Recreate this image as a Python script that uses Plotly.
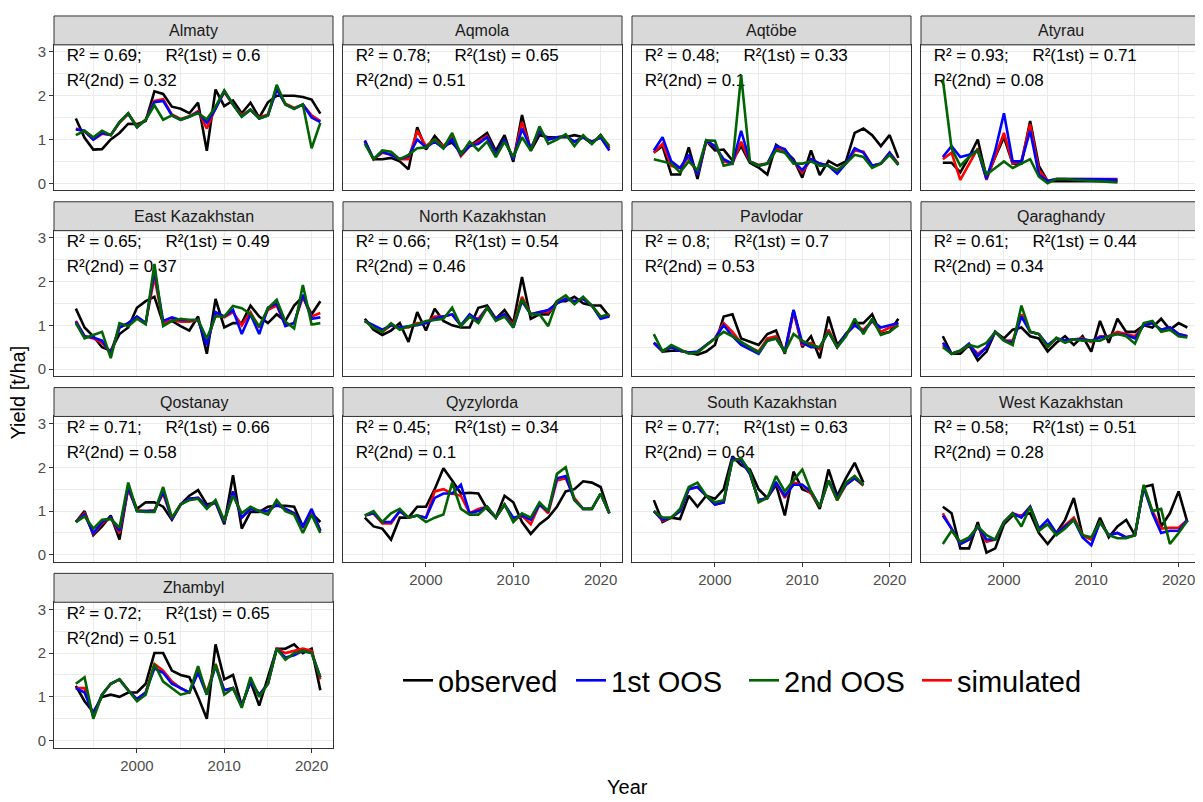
import plotly.graph_objects as go

# ---------------- data ----------------
years = list(range(1993, 2022))
regions = ["Almaty", "Aqmola", "Aqtöbe", "Atyrau", "East Kazakhstan", "North Kazakhstan",
           "Pavlodar", "Qaraghandy", "Qostanay", "Qyzylorda", "South Kazakhstan",
           "West Kazakhstan", "Zhambyl"]

r2_all = [0.69, 0.78, 0.48, 0.93, 0.65, 0.66, 0.8, 0.61, 0.71, 0.45, 0.77, 0.58, 0.72]
r2_1st = [0.6, 0.65, 0.33, 0.71, 0.49, 0.54, 0.7, 0.44, 0.66, 0.34, 0.63, 0.51, 0.65]
r2_2nd = [0.32, 0.51, 0.1, 0.08, 0.37, 0.46, 0.53, 0.34, 0.58, 0.1, 0.64, 0.28, 0.51]

almaty_obs = [1.48,1.04,0.77,0.78,1.0,1.15,1.36,1.35,1.42,2.1,2.04,1.75,1.7,1.6,1.84,0.74,2.14,1.76,1.89,1.6,1.84,1.5,1.85,2.0,2.0,2.0,1.97,1.91,1.59]
almaty_sim = [1.25,1.18,1.0,1.13,1.1,1.38,1.58,1.3,1.45,1.88,1.92,1.57,1.47,1.53,1.65,1.25,1.72,2.08,1.8,1.55,1.68,1.5,1.57,2.15,1.82,1.72,1.8,1.55,1.42]
almaty_1st = [1.23,1.2,1.0,1.15,1.1,1.4,1.6,1.28,1.45,1.85,1.88,1.55,1.45,1.52,1.62,1.38,1.7,2.1,1.8,1.52,1.68,1.48,1.55,2.15,1.8,1.7,1.8,1.5,1.4]
almaty_2nd = [1.1,1.2,1.05,1.2,1.1,1.4,1.6,1.28,1.45,1.78,1.45,1.55,1.45,1.52,1.6,1.46,1.75,2.12,1.8,1.52,1.68,1.48,1.55,2.25,1.8,1.7,1.8,0.8,1.38]

aqmola_obs = [0.96,0.55,0.55,0.58,0.5,0.32,1.28,0.77,1.08,0.85,0.93,0.7,0.85,1.0,1.15,0.74,1.1,0.49,1.56,0.74,1.1,1.05,1.05,1.05,1.1,1.05,0.9,1.1,0.8]
aqmola_sim = [0.95,0.55,0.7,0.65,0.55,0.55,1.2,0.85,1.0,0.85,1.05,0.62,0.85,0.95,1.08,0.65,1.0,0.55,1.4,0.78,1.2,1.0,1.05,1.08,0.95,1.05,0.95,1.05,0.8]
aqmola_1st = [0.98,0.55,0.72,0.65,0.55,0.62,1.0,0.82,0.95,0.8,1.0,0.65,0.85,0.9,1.05,0.65,1.0,0.55,1.25,0.8,1.2,1.0,1.05,1.08,0.95,1.05,0.95,1.05,0.75]
aqmola_2nd = [0.9,0.55,0.75,0.72,0.55,0.65,0.8,0.82,1.0,0.8,1.15,0.65,0.95,0.75,0.95,0.6,0.95,0.6,1.05,0.75,1.3,0.9,1.0,1.12,0.85,1.1,0.9,1.1,0.85]

aqtobe_obs = [0.7,0.85,0.2,0.2,0.82,0.1,0.97,0.75,0.77,0.52,0.85,0.47,0.36,0.2,0.88,0.74,0.55,0.13,0.75,0.19,0.51,0.4,0.5,1.15,1.25,1.1,0.85,1.1,0.58]
aqtobe_sim = [0.7,0.9,0.4,0.35,0.6,0.2,0.95,0.85,0.5,0.45,0.95,0.5,0.42,0.45,0.8,0.75,0.5,0.25,0.55,0.45,0.4,0.3,0.45,0.75,0.72,0.4,0.45,0.7,0.45]
aqtobe_1st = [0.75,1.05,0.5,0.35,0.65,0.2,0.98,0.85,0.55,0.45,1.2,0.5,0.4,0.45,0.85,0.78,0.5,0.3,0.55,0.45,0.4,0.22,0.45,0.8,0.7,0.4,0.45,0.7,0.42]
aqtobe_2nd = [0.55,0.5,0.45,0.25,0.5,0.3,0.98,0.97,0.4,0.45,2.47,0.5,0.4,0.45,0.75,0.7,0.45,0.45,0.5,0.4,0.4,0.3,0.45,0.65,0.6,0.35,0.45,0.65,0.42]

atyrau_obs = [0.47,0.47,0.25,0.6,1.0,0.13,0.6,1.05,0.45,0.45,1.42,0.4,0.05,0.05,0.05,0.05,0.05,0.05,0.05,0.05,0.05]
atyrau_sim = [0.55,0.7,0.08,0.45,0.8,0.08,0.6,1.15,0.45,0.5,1.35,0.3,0.05,0.1,0.1,0.1,0.1,0.1,0.1,0.1,0.1]
atyrau_1st = [0.6,0.85,0.6,0.65,0.75,0.1,0.75,1.6,0.5,0.5,1.2,0.2,0.05,0.1,0.1,0.1,0.1,0.1,0.09,0.09,0.08]
atyrau_2nd = [2.37,0.8,0.4,0.6,0.75,0.2,0.35,0.5,0.35,0.45,0.55,0.15,0.0,0.1,0.1,0.08,0.07,0.06,0.05,0.04,0.02]

eastkaz_obs = [1.38,0.95,0.75,0.5,0.42,0.8,0.95,1.4,1.55,1.65,1.05,1.1,0.98,0.88,1.2,0.35,1.6,0.95,1.05,1.05,1.45,1.2,1.05,1.25,1.1,1.45,1.65,1.25,1.55]
eastkaz_sim = [1.1,0.75,0.7,0.6,0.38,0.95,1.05,1.2,1.05,2.1,1.05,1.12,1.08,1.08,1.12,0.6,1.25,1.18,1.3,1.0,1.3,0.95,1.35,1.45,1.0,1.05,1.65,1.2,1.28]
eastkaz_1st = [1.08,0.75,0.72,0.65,0.35,0.95,1.05,1.2,1.05,2.25,1.1,1.18,1.12,1.12,1.12,0.55,1.3,1.2,1.35,0.8,1.25,0.8,1.4,1.5,0.98,1.05,1.7,1.15,1.18]
eastkaz_2nd = [1.05,0.7,0.78,0.85,0.25,1.05,0.98,1.15,1.02,2.4,0.98,1.1,1.15,1.12,1.12,0.7,1.2,1.2,1.44,1.39,1.26,0.97,1.39,1.58,1.08,0.93,1.92,1.02,1.05]

northkaz_obs = [1.15,0.9,0.78,0.88,1.05,0.62,1.3,0.88,1.38,1.1,1.0,0.95,0.95,1.4,1.45,1.15,1.35,1.05,2.1,1.15,1.25,1.25,1.55,1.55,1.65,1.5,1.45,1.45,1.2]
northkaz_sim = [1.1,0.95,0.85,1.0,0.95,0.95,1.05,1.05,1.2,1.2,1.25,1.0,1.2,1.15,1.4,1.15,1.25,1.0,1.65,1.25,1.3,1.3,1.5,1.6,1.55,1.6,1.45,1.2,1.22]
northkaz_1st = [1.1,1.0,0.9,1.0,0.95,0.98,1.0,1.05,1.15,1.2,1.25,1.0,1.25,1.1,1.4,1.15,1.25,0.95,1.55,1.25,1.3,1.35,1.5,1.6,1.55,1.6,1.45,1.15,1.2]
northkaz_2nd = [1.1,0.95,0.85,1.05,0.9,0.98,1.02,1.1,1.12,1.15,1.4,0.98,1.2,1.05,1.4,1.1,1.2,0.95,1.6,1.25,1.25,0.98,1.55,1.68,1.48,1.65,1.45,1.2,1.25]

pavlodar_obs = [0.6,0.4,0.42,0.42,0.38,0.33,0.4,0.55,1.2,1.25,0.7,0.62,0.55,0.8,0.88,0.35,1.35,0.5,0.75,0.25,1.2,0.55,0.8,1.05,1.05,1.25,0.8,0.85,1.15]
pavlodar_sim = [0.6,0.42,0.5,0.42,0.38,0.38,0.55,0.7,1.05,0.85,0.6,0.5,0.4,0.7,0.75,0.38,1.3,0.55,0.6,0.45,0.9,0.5,0.8,1.0,0.9,1.1,0.85,0.95,1.05]
pavlodar_1st = [0.6,0.42,0.5,0.42,0.38,0.4,0.55,0.7,1.0,0.75,0.55,0.45,0.35,0.65,0.7,0.4,1.35,0.6,0.5,0.5,0.85,0.5,0.8,1.0,0.85,1.1,0.95,1.0,1.05]
pavlodar_2nd = [0.8,0.4,0.55,0.45,0.35,0.38,0.55,0.7,0.85,0.75,0.62,0.5,0.38,0.65,0.7,0.4,0.8,0.65,0.55,0.5,0.85,0.5,0.75,1.15,0.8,1.15,0.78,0.85,1.0]

qaraghandy_obs = [0.75,0.35,0.35,0.55,0.2,0.4,0.85,0.7,0.9,0.95,0.75,0.7,0.4,0.6,0.75,0.55,0.75,0.4,1.1,0.6,1.15,0.85,0.85,1.0,0.95,1.15,0.9,1.05,0.95]
qaraghandy_sim = [0.55,0.35,0.42,0.55,0.35,0.5,0.85,0.65,0.65,1.25,0.85,0.8,0.5,0.7,0.65,0.68,0.7,0.62,0.75,0.75,0.85,0.8,0.75,1.0,1.05,0.9,0.95,0.8,0.75]
qaraghandy_1st = [0.6,0.35,0.42,0.58,0.3,0.5,0.85,0.65,0.6,1.2,0.85,0.8,0.55,0.7,0.65,0.68,0.68,0.65,0.72,0.75,0.8,0.78,0.7,1.0,1.05,0.9,0.95,0.8,0.75]
qaraghandy_2nd = [0.5,0.35,0.42,0.55,0.5,0.6,0.85,0.65,0.55,1.45,0.85,0.8,0.5,0.72,0.6,0.68,0.65,0.65,0.65,0.75,0.8,0.75,0.58,1.05,1.1,0.85,0.9,0.75,0.72]

qostanay_obs = [0.75,1.0,0.45,0.65,0.9,0.35,1.55,1.05,1.2,1.2,1.1,0.8,1.15,1.35,1.48,1.15,1.2,0.7,1.82,0.6,0.98,0.98,1.1,1.12,1.12,1.1,0.65,0.95,0.75]
qostanay_sim = [0.75,0.95,0.48,0.72,0.85,0.5,1.5,1.02,1.0,1.02,1.4,0.82,1.15,1.28,1.3,1.1,1.2,0.75,1.45,0.85,1.05,1.0,1.0,1.15,1.05,0.95,0.62,1.0,0.55]
qostanay_1st = [0.75,0.92,0.5,0.75,0.85,0.55,1.55,1.0,1.0,1.0,1.45,0.82,1.15,1.28,1.3,1.1,1.2,0.75,1.45,0.85,1.05,1.0,1.0,1.15,1.05,0.95,0.65,1.05,0.55]
qostanay_2nd = [0.75,0.88,0.6,0.8,0.82,0.62,1.65,1.0,0.98,0.98,1.55,0.85,1.15,1.25,1.28,1.05,1.25,0.78,1.35,0.95,1.1,1.0,0.92,1.25,1.0,0.92,0.5,0.92,0.5]

qyzylorda_obs = [0.85,0.65,0.6,0.35,0.85,0.85,1.1,1.1,1.5,1.98,1.7,1.4,1.42,1.4,1.05,0.85,1.35,1.2,0.75,0.48,0.7,0.85,1.1,1.45,1.5,1.68,1.65,1.55,0.95]
qyzylorda_sim = [0.9,0.95,0.72,0.72,1.0,0.85,0.9,0.85,1.45,1.5,1.4,1.35,0.95,1.05,1.1,0.85,1.15,0.8,0.9,0.7,1.15,0.95,1.7,1.75,1.3,1.05,1.05,1.4,0.95]
qyzylorda_1st = [0.9,0.95,0.75,0.75,1.0,0.85,0.9,0.85,1.3,1.4,1.4,1.6,0.95,1.0,1.1,0.85,1.15,0.85,0.9,0.8,1.15,1.0,1.75,1.8,1.25,1.05,1.05,1.4,0.95]
qyzylorda_2nd = [0.9,1.0,0.75,0.95,1.05,0.85,0.9,0.75,0.85,0.92,1.65,1.05,0.92,0.92,1.1,0.85,1.15,0.75,0.95,0.85,1.2,1.0,1.85,2.0,1.25,1.05,1.05,1.4,0.95]

southkaz_obs = [1.25,0.75,0.85,0.82,1.35,1.1,1.35,1.28,1.5,2.25,2.05,1.95,1.5,1.3,1.6,0.9,1.9,1.5,1.42,1.05,1.95,1.35,1.75,2.1,1.65]
southkaz_sim = [1.0,0.78,0.85,1.0,1.5,1.55,1.35,1.15,1.2,2.2,2.15,1.85,1.25,1.3,1.65,1.3,1.65,1.6,1.4,1.1,1.7,1.25,1.6,1.75,1.58]
southkaz_1st = [1.0,0.8,0.85,1.0,1.5,1.55,1.35,1.15,1.2,2.2,2.15,1.85,1.25,1.3,1.65,1.35,1.6,1.6,1.45,1.1,1.7,1.3,1.6,1.75,1.6]
southkaz_2nd = [1.0,0.85,0.85,1.05,1.55,1.65,1.35,1.2,1.25,2.15,2.2,1.9,1.2,1.3,1.8,1.45,1.7,1.95,1.45,1.1,1.7,1.25,1.65,1.8,1.6]

westkaz_obs = [1.1,0.95,0.15,0.15,0.75,0.05,0.15,0.7,0.9,0.9,0.95,0.5,0.25,0.5,0.8,1.3,0.45,0.35,0.85,0.4,0.65,0.8,0.45,1.55,1.6,0.65,0.95,1.45,0.75]
westkaz_sim = [0.95,0.6,0.25,0.35,0.65,0.3,0.35,0.75,0.95,0.88,1.1,0.6,0.7,0.5,0.68,0.85,0.45,0.35,0.75,0.45,0.5,0.4,0.45,1.55,1.0,0.6,0.62,0.62,0.8]
westkaz_1st = [0.9,0.6,0.25,0.35,0.65,0.35,0.35,0.75,0.95,0.85,1.1,0.6,0.8,0.5,0.65,0.8,0.4,0.22,0.75,0.45,0.5,0.4,0.45,1.55,0.95,0.5,0.55,0.55,0.8]
westkaz_2nd = [0.25,0.55,0.3,0.4,0.65,0.45,0.35,0.75,0.95,0.65,1.1,0.55,0.7,0.45,0.6,0.8,0.45,0.4,0.75,0.45,0.38,0.38,0.45,1.6,1.0,1.05,0.25,0.5,0.78]

zhambyl_obs = [1.25,0.9,0.65,1.0,1.05,1.0,1.1,1.1,1.3,2.0,2.0,1.6,1.5,1.45,1.0,0.5,2.2,1.4,1.5,0.8,1.35,0.8,1.45,2.1,2.1,2.2,2.0,2.1,1.15]
zhambyl_sim = [1.2,1.2,0.55,1.05,1.3,1.4,1.15,0.95,1.1,1.75,1.6,1.35,1.2,1.1,1.6,1.1,1.75,1.15,1.2,0.8,1.35,1.05,1.3,2.1,2.0,2.05,2.1,2.05,1.4]
zhambyl_1st = [1.2,1.1,0.6,1.05,1.3,1.4,1.15,0.95,1.1,1.65,1.55,1.3,1.2,1.1,1.55,1.05,1.7,1.15,1.2,0.8,1.35,1.05,1.3,2.1,1.9,1.95,2.05,2.0,1.45]
zhambyl_2nd = [1.3,1.45,0.5,1.05,1.3,1.4,1.15,0.9,1.05,1.75,1.35,1.2,1.05,1.1,1.7,1.05,1.75,1.05,1.2,0.75,1.45,1.0,1.3,2.1,1.85,2.0,2.05,2.0,1.45]

series_data = {
    "Almaty": (almaty_obs, almaty_sim, almaty_1st, almaty_2nd),
    "Aqmola": (aqmola_obs, aqmola_sim, aqmola_1st, aqmola_2nd),
    "Aqtöbe": (aqtobe_obs, aqtobe_sim, aqtobe_1st, aqtobe_2nd),
    "Atyrau": (atyrau_obs, atyrau_sim, atyrau_1st, atyrau_2nd),
    "East Kazakhstan": (eastkaz_obs, eastkaz_sim, eastkaz_1st, eastkaz_2nd),
    "North Kazakhstan": (northkaz_obs, northkaz_sim, northkaz_1st, northkaz_2nd),
    "Pavlodar": (pavlodar_obs, pavlodar_sim, pavlodar_1st, pavlodar_2nd),
    "Qaraghandy": (qaraghandy_obs, qaraghandy_sim, qaraghandy_1st, qaraghandy_2nd),
    "Qostanay": (qostanay_obs, qostanay_sim, qostanay_1st, qostanay_2nd),
    "Qyzylorda": (qyzylorda_obs, qyzylorda_sim, qyzylorda_1st, qyzylorda_2nd),
    "South Kazakhstan": (southkaz_obs, southkaz_sim, southkaz_1st, southkaz_2nd),
    "West Kazakhstan": (westkaz_obs, westkaz_sim, westkaz_1st, westkaz_2nd),
    "Zhambyl": (zhambyl_obs, zhambyl_sim, zhambyl_1st, zhambyl_2nd),
}

# draw order: observed, simulated, 1st OOS, 2nd OOS ; legend order via rank
series_names = ["observed", "simulated", "1st OOS", "2nd OOS"]
series_colors = ["#000000", "#FF0000", "#0000FF", "#006400"]
series_rank = [1, 4, 2, 3]

# ---------------- layout ----------------
PAGE_OFF = 8          # default body margin of the html page
FW, FH = 1203 - PAGE_OFF, 802 - PAGE_OFF
FONT = "Liberation Sans, Arial, sans-serif"


def PX(x):
    return (x - PAGE_OFF) / FW


def PY(y):
    return 1 - (y - PAGE_OFF) / FH


col_x0 = [54, 343, 632, 921]
pw = 279
strip_top = [14, 200.5, 387, 573.5]
sh = 29
ph = 146
XR = [1990.5, 2022.45]
YR = [-0.16, 3.16]
NB = "\u00a0"

fig = go.Figure()
shapes = []
annotations = []
layout_axes = {}

for i, reg in enumerate(regions):
    r, c = divmod(i, 4)
    idx = i + 1
    xa = "x" if idx == 1 else f"x{idx}"
    ya = "y" if idx == 1 else f"y{idx}"
    x0 = col_x0[c]
    top = strip_top[r] + sh
    bot = top + ph
    show_x = (c == 0 and r == 3) or (c > 0 and r == 2)
    show_y = c == 0

    layout_axes["xaxis" if idx == 1 else f"xaxis{idx}"] = dict(
        domain=[PX(x0), PX(x0 + pw)], anchor=ya, range=XR,
        tickvals=[2000, 2010, 2020], showticklabels=show_x,
        ticks="outside" if show_x else "", ticklen=4, tickwidth=1, tickcolor="#333333",
        tickfont=dict(size=15, color="#4D4D4D", family=FONT),
        showgrid=True, gridcolor="#EBEBEB", gridwidth=1.3,
        minor=dict(tickvals=[1995, 2005, 2015], showgrid=True, gridcolor="#EBEBEB", gridwidth=0.7),
        showline=True, mirror=True, linecolor="#333333", linewidth=1, zeroline=False,
    )
    layout_axes["yaxis" if idx == 1 else f"yaxis{idx}"] = dict(
        domain=[PY(bot), PY(top)], anchor=xa, range=YR,
        tickvals=[0, 1, 2, 3], showticklabels=show_y,
        ticks="outside" if show_y else "", ticklen=4, tickwidth=1, tickcolor="#333333",
        tickfont=dict(size=15, color="#4D4D4D", family=FONT),
        showgrid=True, gridcolor="#EBEBEB", gridwidth=1.3,
        minor=dict(tickvals=[0.5, 1.5, 2.5], showgrid=True, gridcolor="#EBEBEB", gridwidth=0.7),
        showline=True, mirror=True, linecolor="#333333", linewidth=1, zeroline=False,
    )

    # strip
    shapes.append(dict(type="rect", xref="paper", yref="paper",
                       x0=PX(x0), x1=PX(x0 + pw),
                       y0=PY(strip_top[r] + sh), y1=PY(strip_top[r]),
                       fillcolor="#D9D9D9", line=dict(color="#333333", width=1)))
    annotations.append(dict(text=reg, xref="paper", yref="paper",
                            x=PX(x0 + pw / 2), y=PY(strip_top[r] + sh / 2),
                            showarrow=False, xanchor="center", yanchor="middle",
                            font=dict(size=16, color="#1A1A1A", family=FONT)))

    # R² text (drawn under the lines)
    line1 = f"R² = {r2_all[i]:g};" + NB * 5 + f"R²(1st) = {r2_1st[i]:g}"
    line2 = f"R²(2nd) = {r2_2nd[i]:g}"
    fig.add_trace(go.Scatter(x=[1991.95, 1991.95], y=[2.88, 2.31], mode="text",
                             text=[line1, line2], textposition="middle right",
                             textfont=dict(size=17, color="black", family=FONT),
                             xaxis=xa, yaxis=ya, showlegend=False, hoverinfo="skip"))

    vals = series_data[reg]
    for k in range(4):
        v = vals[k]
        fig.add_trace(go.Scatter(
            x=years[:len(v)], y=v, mode="lines",
            line=dict(color=series_colors[k], width=2.6),
            name=series_names[k], legendgroup=series_names[k],
            legendrank=series_rank[k], showlegend=(i == 0),
            xaxis=xa, yaxis=ya, hoverinfo="skip"))

annotations.append(dict(text="Yield [t/ha]", xref="paper", yref="paper",
                        x=PX(18), y=PY(392), textangle=-90, showarrow=False,
                        xanchor="center", yanchor="middle",
                        font=dict(size=20, color="black", family=FONT)))
annotations.append(dict(text="Year", xref="paper", yref="paper",
                        x=PX(627), y=PY(788), showarrow=False,
                        xanchor="center", yanchor="middle",
                        font=dict(size=20, color="black", family=FONT)))

fig.update_layout(
    width=FW, height=FH, margin=dict(l=0, r=0, t=0, b=0),
    paper_bgcolor="white", plot_bgcolor="white",
    font=dict(family=FONT),
    shapes=shapes, annotations=annotations,
    legend=dict(orientation="h", x=PX(398), xanchor="left", y=PY(681), yanchor="middle",
                font=dict(size=29, color="black", family=FONT), bgcolor="rgba(0,0,0,0)",
                traceorder="normal", entrywidth=128, entrywidthmode="pixels"),
    **layout_axes,
)

fig.write_html("out.html")
